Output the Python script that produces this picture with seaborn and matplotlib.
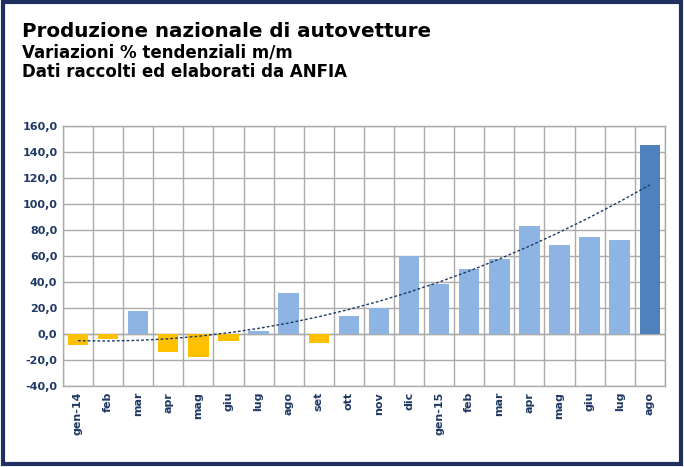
import numpy as np
import pandas as pd
import matplotlib
matplotlib.use("Agg")
import matplotlib.pyplot as plt
import seaborn as sns
from matplotlib.patches import Rectangle
from matplotlib.ticker import FuncFormatter, MultipleLocator

months = ["gen-14", "feb", "mar", "apr", "mag", "giu", "lug", "ago", "set", "ott",
          "nov", "dic", "gen-15", "feb", "mar", "apr", "mag", "giu", "lug", "ago"]
values = [-8.5, -3.6, 17.7, -13.6, -17.4, -5.1, 2.6, 32.0, -6.9, 14.3,
          20.5, 59.9, 38.9, 50.2, 57.9, 83.5, 68.4, 74.8, 72.2, 145.2]

YELLOW = "#FFC000"
LIGHT = "#8DB4E2"
DARK = "#4F81BD"
NAVY = "#1F3864"

colors = [YELLOW if v < 0 else LIGHT for v in values]
colors[-1] = DARK

sns.set_theme(style="white")
plt.rcParams['font.family'] = ['DejaVu Sans']

fig = plt.figure(figsize=(6.84, 4.67), dpi=100)
ax = fig.add_axes([0.092, 0.173, 0.88, 0.557])

df = pd.DataFrame({"idx": [str(i) for i in range(len(values))], "val": values})
sns.barplot(data=df, x="idx", y="val", hue="idx", palette=colors, legend=False,
            width=0.68, saturation=1, linewidth=0, edgecolor="none", ax=ax)

# polynomial trend line (order 2)
xs = np.arange(len(values))
coef = np.polyfit(xs, values, 2)
ax.plot(xs, np.polyval(coef, xs), linestyle=(0, (2, 1.5)), color=NAVY, lw=1.0, zorder=3)

ax.set_ylim(-40, 160)
ax.set_xlim(-0.5, len(values) - 0.5)
ax.yaxis.set_major_locator(MultipleLocator(20))
ax.yaxis.set_major_formatter(FuncFormatter(lambda v, p: f"{v:.1f}".replace(".", ",")))
ax.set_xticks(xs)
ax.set_xticklabels(months, rotation=90, color=NAVY, fontsize=8, fontweight="bold")
for lab in ax.get_yticklabels():
    lab.set_color(NAVY); lab.set_fontsize(8); lab.set_fontweight("bold")
ax.set_xlabel(""); ax.set_ylabel("")

# grid
ax.set_axisbelow(True)
ax.yaxis.grid(True, color="#ABABAB", lw=1)
for b in np.arange(-0.5, len(values), 1):
    ax.axvline(b, color="#ABABAB", lw=1, zorder=0)
ax.axhline(0, color="#ABABAB", lw=1, zorder=0)
for s in ax.spines.values():
    s.set_color("#ABABAB"); s.set_linewidth(1)
ax.tick_params(axis="both", length=0, pad=4)

# titles
fig.text(0.032, 0.921, "Produzione nazionale di autovetture", fontsize=14.3,
         fontweight="bold", color="black", ha="left", va="baseline")
fig.text(0.032, 0.876, "Variazioni % tendenziali m/m", fontsize=12,
         fontweight="bold", color="black", ha="left", va="baseline")
fig.text(0.032, 0.835, "Dati raccolti ed elaborati da ANFIA", fontsize=12,
         fontweight="bold", color="black", ha="left", va="baseline")

# outer frame
fig.patches.append(Rectangle((0.004, 0.006), 0.992, 0.99, transform=fig.transFigure,
                             fill=False, edgecolor="#1F2F5F", lw=3))

fig.savefig("out.png", dpi=100)
